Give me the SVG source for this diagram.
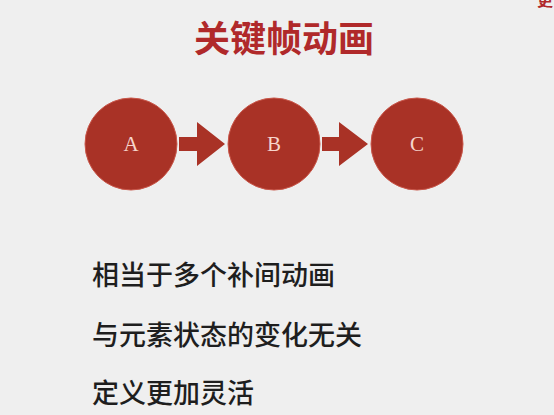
<svg xmlns="http://www.w3.org/2000/svg" width="554" height="415" viewBox="0 0 554 415">
  <style>
    .title { font-family: "Noto Sans CJK SC", "Noto Sans", sans-serif; font-weight: 700; font-size: 36px; fill: #B0292A; }
    .node circle { fill: #A93226; stroke: #C9574A; stroke-width: 1; }
    .node text { font-family: "Liberation Serif", "DejaVu Serif", serif; font-size: 21px; fill: #F6D5CC; text-anchor: middle; }
    .arrow { fill: #A93226; }
    .item { font-family: "Noto Sans CJK SC", "Noto Sans", sans-serif; font-weight: 500; font-size: 27px; fill: #1E1E1E; }
    .corner { font-family: "Noto Sans CJK SC", sans-serif; font-weight: 700; font-size: 16px; fill: #B0292A; }
  </style>
  <rect width="554" height="415" fill="#EFEFEF"/>

  <!-- page edge label, only its lower part falls inside the frame -->
  <text class="corner" x="537" y="6">更</text>

  <text class="title" x="284" y="52" text-anchor="middle">关键帧动画</text>

  <g id="connectors">
    <polygon class="arrow" points="179,137 197,137 197,122 225,144 197,166 197,151 179,151"/>
    <polygon class="arrow" points="322,137 339,137 339,122 368,144 339,166 339,151 322,151"/>
  </g>

  <g id="node-A" class="node">
    <circle cx="131" cy="144" r="46"/>
    <text x="131" y="151">A</text>
  </g>
  <g id="node-B" class="node">
    <circle cx="274" cy="144" r="46"/>
    <text x="274" y="151">B</text>
  </g>
  <g id="node-C" class="node">
    <circle cx="417" cy="144" r="46"/>
    <text x="417" y="151">C</text>
  </g>

  <text class="item" x="92" y="285">相当于多个补间动画</text>
  <text class="item" x="92" y="345">与元素状态的变化无关</text>
  <text class="item" x="92" y="403">定义更加灵活</text>
</svg>
